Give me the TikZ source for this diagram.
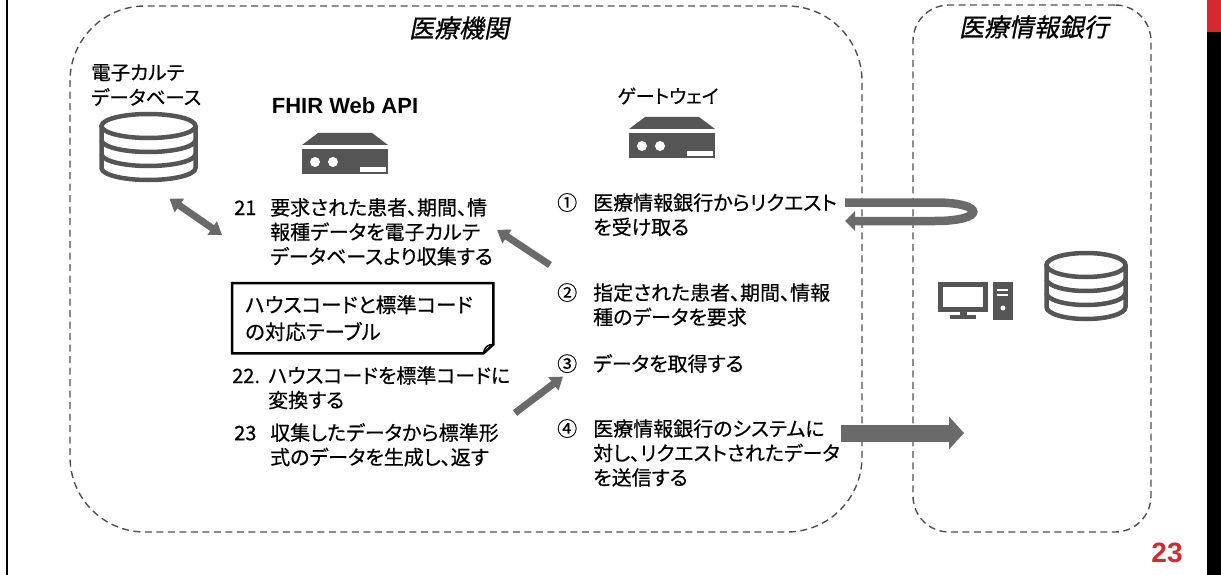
\documentclass[tikz,border=0pt]{standalone}
\usepackage{fontspec}
\setmainfont{Liberation Sans}
\newfontfamily\jp[RawFeature=+palt,FakeBold=0.5]{Noto Sans CJK JP}
\newfontfamily\jpit[RawFeature=+palt,FakeSlant=0.2,FakeBold=0.8]{Noto Sans CJK JP}
\usepackage{tikz}
\usetikzlibrary{arrows.meta,positioning}
\definecolor{icongray}{HTML}{555555}
\definecolor{arrowgray}{HTML}{6A6A6A}
\definecolor{zonegray}{HTML}{505050}
\definecolor{pagered}{HTML}{D42A2E}
\newcommand{\stepno}[1]{\makebox[36pt][l]{#1}}
\newcommand{\stepgap}{\hspace*{36pt}}
% stacked database drum: centre x, centre y, half width
\newcommand{\dbicon}[3]{%
  \begin{scope}[shift={(#1,#2)}]
    \draw[icon] (0,-21) ellipse [x radius=#3, y radius=12];
    \draw[icon] (-#3,-21) -- (-#3,21) arc [start angle=180, end angle=0, x radius=#3, y radius=12] -- (#3,-21);
    \foreach \yy in {-7,7}
      \draw[icon] (-#3,\yy) arc [start angle=180, end angle=0, x radius=#3, y radius=12];
  \end{scope}}
% rack server box: centre x, centre y
\newcommand{\servericon}[2]{%
  \begin{scope}[shift={(#1,#2)}]
    \fill[icongray] (-27,-20) -- (27,-20) -- (43,-8) -- (-43,-8) -- cycle;
    \fill[icongray] (-43,-4) rectangle (43,21);
    \fill[white] (-30,9) circle [radius=5] (-12,9) circle [radius=5];
    \fill[white] (15,14) rectangle (41,19);
  \end{scope}}

\begin{document}
\begin{tikzpicture}[x=1pt, y=-1pt,
    zone/.style={draw=zonegray, line width=1.4pt, dash pattern=on 7pt off 4.5pt},
    zonelabel/.style={font=\jpit\fontsize{25}{30}\selectfont},
    desc/.style={anchor=north west, inner sep=0pt, align=left,
                 font=\jp\fontsize{20}{24.5}\selectfont},
    icon/.style={draw=icongray, line width=4.5pt},
    fat/.style={draw=arrowgray, line width=7pt, >={Triangle[width=16pt,length=12pt]}}
    ]
    \useasboundingbox (0,0) rectangle (1221,575);

    % page frame
    \draw[line width=2pt] (7,0) -- (7,575);
    \fill (1207,0) rectangle (1221,575);
    \fill[pagered] (1207,0) rectangle (1221,32);

    % zones
    \node[zone, rounded corners=75pt, minimum width=792, minimum height=526] (clinic) at (466,269) {};
    \node[zone, rounded corners=36pt, minimum width=238, minimum height=527] (bank) at (1032,268.5) {};
    \node[zonelabel] (clinlbl) at (459,28) {医療機関};
    \node[zonelabel] (banklbl) at (1034,27) {医療情報銀行};

    % electronic records database
    \node[desc, font=\jp\fontsize{19.5}{25}\selectfont] (ehrlbl) at (91,64) {電子カルテ\\データベース};
    \node[minimum width=100, minimum height=71, inner sep=0pt] (ehr) at (148.5,147) {};
    \dbicon{148.5}{147}{47}

    % servers
    \node[font=\bfseries\fontsize{22}{26}\selectfont] (fhirlbl) at (345,106) {FHIR Web API};
    \servericon{345}{153}
    \node[font=\jp\fontsize{19}{22}\selectfont] (gwlbl) at (668,96) {ゲートウェイ};
    \servericon{672}{137}

    % bank side: computer and database
    \draw[icon] (940.5,284.5) rectangle (985.5,309.5);
    \fill[icongray] (960,311) rectangle (967,316);
    \fill[icongray] (950,315) rectangle (976,319);
    \fill[icongray] (993,282) rectangle (1013,320);
    \draw[white, line width=1.5pt] (997,290) -- (1008,290) (997,295) -- (1008,295);
    \fill[white] (1003,308) circle [radius=2.5];
    \dbicon{1086}{286}{39.5}

    % FHIR side steps
    \node[desc] (s21) at (234,198) {\stepno{21}要求された患者、期間、情\\\stepgap 報種データを電子カルテ\\\stepgap データベースより収集する};
    \node[anchor=north west, inner xsep=13pt, inner ysep=0pt, text width=235, minimum height=70,
          align=left, font=\jp\fontsize{20.5}{27}\selectfont] (tbl) at (232,283) {ハウスコードと標準コード\\の対応テーブル};
    \draw[line width=2.5pt] (tbl.north west) -- (tbl.north east) -- ([yshift=9pt]tbl.south east)
        -- ([xshift=-10pt]tbl.south east) -- (tbl.south west) -- cycle;
    \draw[line width=1.5pt] ([xshift=-10pt]tbl.south east) .. controls ([shift={(-9,-6)}]tbl.south east)
        and ([shift={(-6,-9)}]tbl.south east) .. ([yshift=9pt]tbl.south east);
    \node[desc] (s22) at (232,366) {\stepno{22.}ハウスコードを標準コードに\\\stepgap 変換する};
    \node[desc] (s23) at (234,423) {\stepno{23}収集したデータから標準形\\\stepgap 式のデータを生成し、返す};

    % gateway steps
    \node[desc] (s1) at (557,193) {\stepno{①}医療情報銀行からリクエスト\\\stepgap を受け取る};
    \node[desc] (s2) at (557,283) {\stepno{②}指定された患者、期間、情報\\\stepgap 種のデータを要求};
    \node[desc] (s3) at (557,354) {\stepno{③}データを取得する};
    \node[desc] (s4) at (557,419) {\stepno{④}医療情報銀行のシステムに\\\stepgap 対し、リクエストされたデータ\\\stepgap を送信する};

    % arrows
    \draw[fat, <->] ([shift={(21,16)}]ehr.south) -- ([shift={(-12,3)}]s21.west);
    \draw[fat, ->] ([shift={(-7,-18)}]s2.north west) -- ([shift={(263,-2)}]s21.west);
    \draw[fat, ->] ([shift={(281,-10)}]s23.north west) -- ([shift={(6,13)}]s3.west);

    \coordinate (reqin) at ([shift={(288,9.5)}]s1.north west);
    \coordinate (reqout) at ([shift={(288,28)}]s1.north west);
    \draw[draw=arrowgray, line width=8.5pt, -{Triangle[width=19pt,length=10pt]}]
        (reqin) -- (935,202.5) .. controls (986,202.5) and (986,221) .. (935,221) -- (reqout);
    \draw[draw=arrowgray, line width=17pt, -{Triangle[width=32pt,length=15pt]}]
        ([shift={(284,14)}]s4.north west) -- ++(123,0);

    \node[font=\bfseries\fontsize{28}{30}\selectfont, text=pagered] (pageno) at (1167,553) {23};
\end{tikzpicture}
\end{document}
